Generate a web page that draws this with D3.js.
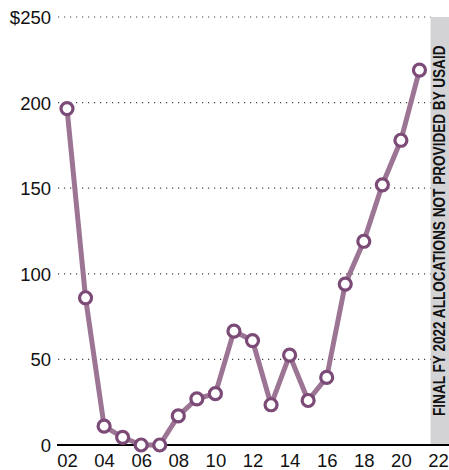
<!DOCTYPE html>
<html>
<head>
<meta charset="utf-8">
<script src="https://cdn.jsdelivr.net/npm/d3@7"></script>
<style>
  html, body { margin: 0; padding: 0; background: #fff; }
  svg { display: block; }
  text { font-family: "Liberation Sans", Arial, sans-serif; }
</style>
</head>
<body>
<svg id="chart" width="449" height="470"></svg>
<script>
const years = [2002, 2003, 2004, 2005, 2006, 2007, 2008, 2009, 2010, 2011, 2012, 2013, 2014, 2015, 2016, 2017, 2018, 2019, 2020, 2021];
const values = [196.5, 86, 11, 4.5, 0, 0, 17, 27, 30, 66.5, 61, 23.5, 52.5, 26, 39.5, 94, 119, 152, 178, 219];
const xTicks = [2002, 2004, 2006, 2008, 2010, 2012, 2014, 2016, 2018, 2020, 2022];
const yTicks = [0, 50, 100, 150, 200, 250];
const bandLabel = "FINAL FY 2022 ALLOCATIONS NOT PROVIDED BY USAID";

const svg = d3.select("#chart");
const x = d3.scaleLinear().domain([2002, 2022]).range([67, 438]);
const y = d3.scaleLinear().domain([0, 250]).range([445, 17]);

// gray band for 2022
const bandX = x(2021.6);
svg.append("rect")
  .attr("x", bandX).attr("y", y(250))
  .attr("width", 449 - bandX).attr("height", y(0) - y(250))
  .attr("fill", "#d3d3d5");

const bandText = svg.append("text")
  .attr("font-size", 16)
  .attr("font-weight", "bold")
  .attr("fill", "#111")
  .text(bandLabel);
const natLen = bandText.node().getComputedTextLength();
const sx = 371 / natLen;
bandText.attr("transform", `translate(${(bandX + 449) / 2 + 5},${y(0) - 29}) rotate(-90) scale(${sx},1)`);

// y axis labels
const yAxis = d3.axisLeft(y).tickValues(yTicks)
  .tickSize(0)
  .tickFormat(d => d === 250 ? "$250" : d);
const gy = svg.append("g").attr("transform", "translate(57,0)").call(yAxis);
gy.select(".domain").remove();
gy.selectAll("text").attr("font-size", 18.5).attr("fill", "#111").attr("x", -6).attr("dy", "0.35em")
  .attr("font-family", "'Liberation Sans', Arial, sans-serif");

// gridlines
svg.append("g").selectAll("line")
  .data(yTicks.filter(d => d > 0))
  .join("line")
  .attr("x1", 58).attr("x2", bandX)
  .attr("y1", d => y(d)).attr("y2", d => y(d))
  .attr("stroke", "#444")
  .attr("stroke-width", 1.2)
  .attr("stroke-dasharray", "1.2,4.8");

// x axis
const xAxis = d3.axisBottom(x).tickValues(xTicks).tickSize(0)
  .tickFormat(d => String(d).slice(2));
const gx = svg.append("g").attr("transform", `translate(0,${y(0)})`).call(xAxis);
gx.select(".domain").remove();
gx.selectAll("text").attr("font-size", 18.5).attr("fill", "#111").attr("dy", "1.02em")
  .attr("font-family", "'Liberation Sans', Arial, sans-serif");

svg.append("line")
  .attr("x1", 57).attr("x2", 449)
  .attr("y1", y(0)).attr("y2", y(0))
  .attr("stroke", "#000").attr("stroke-width", 2.2);

// line
const data = years.map((yr, i) => ({ yr, v: values[i] }));
svg.append("path")
  .datum(data)
  .attr("fill", "none")
  .attr("stroke", "#9c7494")
  .attr("stroke-width", 5)
  .attr("stroke-linejoin", "round")
  .attr("d", d3.line().x(d => x(d.yr)).y(d => y(d.v)));

svg.append("g").selectAll("circle")
  .data(data)
  .join("circle")
  .attr("cx", d => x(d.yr)).attr("cy", d => y(d.v))
  .attr("r", 6)
  .attr("fill", "#fff")
  .attr("stroke", "#7b4a76")
  .attr("stroke-width", 3.2);
</script>
</body>
</html>
